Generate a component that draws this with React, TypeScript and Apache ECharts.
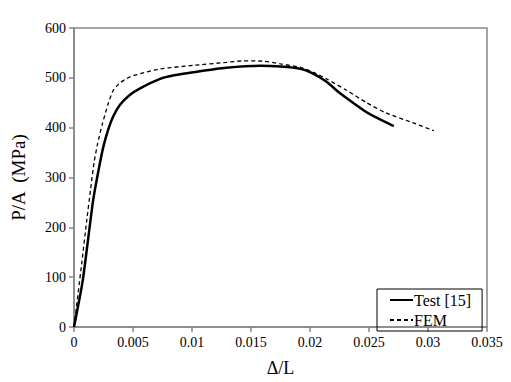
import React, { useEffect, useRef } from "react";
import * as echarts from "echarts";

const testStrain = [0, 0.00051, 0.00079, 0.00121, 0.00164, 0.00214, 0.00248, 0.00291, 0.00333, 0.0039, 0.00475, 0.0056, 0.0073, 0.0085, 0.0101, 0.0129, 0.0158, 0.0175, 0.0192, 0.0203, 0.0214, 0.0225, 0.0237, 0.0248, 0.0259, 0.0271];
const testStress = [0, 62, 101, 179, 257, 322, 361, 397, 423, 446, 466, 479, 498, 505, 511, 520, 524, 522.5, 518, 508, 492, 470, 449, 431, 417, 403];

const femStrain = [0, 0.00065, 0.00107, 0.00141, 0.0017, 0.002, 0.0024, 0.00291, 0.00333, 0.0039, 0.00475, 0.0062, 0.0073, 0.0101, 0.0129, 0.0143, 0.016, 0.0175, 0.0192, 0.0203, 0.0214, 0.0231, 0.0248, 0.0264, 0.0287, 0.0305];
const femStress = [0, 127, 212, 277, 330, 368, 407, 449, 475, 490, 502, 512, 518, 525, 531, 534, 533.5, 528, 521, 511, 498, 475, 450, 430, 410, 394];

const xTicks = ["0", "0.005", "0.01", "0.015", "0.02", "0.025", "0.03", "0.035"];
const seriesNames = ["Test [15]", "FEM"];

const FONT = "'Liberation Serif', 'Times New Roman', serif";

export default function App() {
  const ref = useRef<HTMLDivElement>(null);
  useEffect(() => {
    const chart = echarts.init(ref.current!, null, { renderer: "svg" });
    const axisGray = "#868686";
    chart.setOption({
      animation: false,
      backgroundColor: "#ffffff",
      grid: {
        left: 74,
        right: 24,
        top: 28,
        bottom: 47,
        show: true,
        borderColor: axisGray,
        borderWidth: 1.5,
      },
      legend: {
        left: 377,
        top: 289,
        orient: "vertical",
        borderColor: "#000",
        borderWidth: 1,
        borderRadius: 0,
        padding: [3, 11, 3, 12],
        itemWidth: 23,
        itemHeight: 14,
        itemGap: 4,
        itemStyle: { opacity: 0 },
        textStyle: { fontFamily: FONT, fontSize: 16, color: "#000", padding: [0, 0, 0, -4] },
        data: seriesNames,
      },
      xAxis: {
        type: "value",
        min: 0,
        max: 0.035,
        interval: 0.005,
        splitLine: { show: false },
        axisLine: { lineStyle: { color: axisGray, width: 1.5 } },
        axisTick: { inside: false, length: 5, lineStyle: { color: axisGray, width: 1.5 } },
        axisLabel: {
          fontFamily: FONT,
          fontSize: 14,
          color: "#000",
          margin: 8,
          formatter: (v: number) => xTicks[Math.round(v / 0.005)] ?? "",
        },
        name: "\u0394/L",
        nameLocation: "middle",
        nameGap: 32,
        nameTextStyle: { fontFamily: FONT, fontSize: 18, color: "#000" },
      },
      yAxis: {
        type: "value",
        min: 0,
        max: 600,
        interval: 100,
        splitLine: { show: false },
        axisLine: { lineStyle: { color: axisGray, width: 1.5 } },
        axisTick: { inside: false, length: 5, lineStyle: { color: axisGray, width: 1.5 } },
        axisLabel: { fontFamily: FONT, fontSize: 14, color: "#000", margin: 8 },
        name: "P/A  (MPa)",
        nameLocation: "middle",
        nameGap: 46,
        nameRotate: 90,
        nameTextStyle: { fontFamily: FONT, fontSize: 19, color: "#000" },
      },
      series: [
        {
          name: seriesNames[0],
          type: "line",
          data: testStrain.map((x, i) => [x, testStress[i]]),
          showSymbol: false,
          symbol: "none",
          smooth: 0.2,
          lineStyle: { color: "#000", width: 2.5, type: "solid" },
          itemStyle: { color: "#000" },
          z: 3,
        },
        {
          name: seriesNames[1],
          type: "line",
          data: femStrain.map((x, i) => [x, femStress[i]]),
          showSymbol: false,
          symbol: "none",
          smooth: 0.2,
          lineStyle: { color: "#000", width: 1.3, type: [4, 3] },
          itemStyle: { color: "#000" },
          z: 2,
        },
      ],
    });
    return () => chart.dispose();
  }, []);
  return (
    <div
      ref={ref}
      style={{ position: "fixed", left: 0, top: 0, width: 511, height: 382, background: "#fff" }}
    />
  );
}
